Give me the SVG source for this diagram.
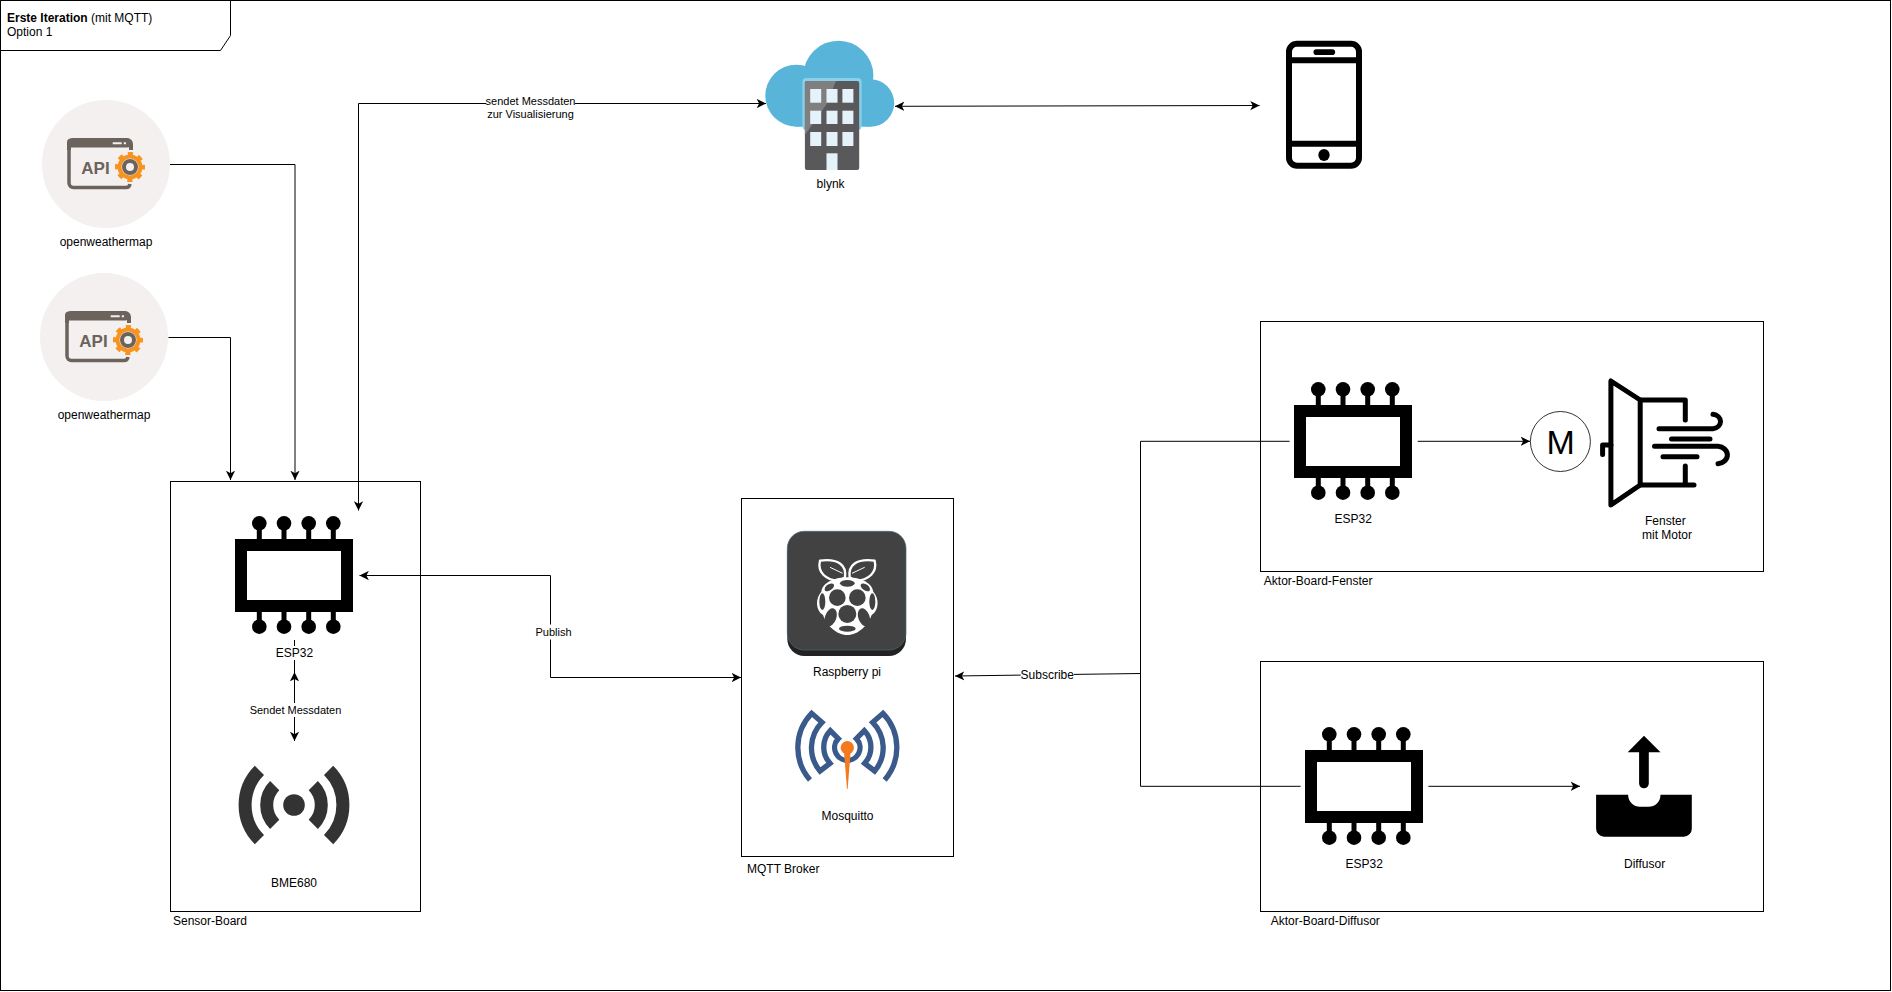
<svg xmlns="http://www.w3.org/2000/svg" width="1892" height="992" viewBox="0 0 1892 992">
<style>
text{font-family:"Liberation Sans",Arial,sans-serif;font-size:12px;fill:#000}
.c{text-anchor:middle}
.s{font-size:11px}
.box{fill:none;stroke:#000;stroke-width:1}
.ln{fill:none;stroke:#000;stroke-width:1}
.bg{fill:#fff}
</style>
<defs>
<marker id="ah" markerWidth="10" markerHeight="10" refX="7.5" refY="4" orient="auto-start-reverse" markerUnits="userSpaceOnUse" viewBox="0 0 8 8"><path d="M0,0.3L7.5,4L0,7.7L2,4Z" fill="#000"/></marker>
<g id="api">
<path d="M69,150V144a4,4 0 0 1 4,-4H127a4,4 0 0 1 4,4V150" fill="none" stroke="#6b635c" stroke-width="4"/>
<rect x="67" y="138.500" width="64" height="9" rx="4" fill="#6b635c"/>
<path d="M69,146V183a4.500,4.500 0 0 0 4.500,4.500H126a4,4 0 0 0 4,-3.500" fill="none" stroke="#6b635c" stroke-width="3.500"/>
<path d="M112.700,143.300H121.700M123.800,143.300H126" stroke="#f3f0ee" stroke-width="2"/>
<text x="95.500" y="173.500" class="c" style="font-size:17px;font-weight:bold;fill:#6b635c">API</text>
<circle cx="130" cy="167" r="10.500" fill="none" stroke="#f7931e" stroke-width="4"/>
<circle cx="130" cy="167" r="13" fill="none" stroke="#f7931e" stroke-width="4" stroke-dasharray="5.105 5.105" stroke-dashoffset="2.550"/>
<circle cx="130" cy="167" r="6" fill="#f3f0ee" stroke="#6b635c" stroke-width="4"/>
</g>
<g id="chip">
<rect x="6" y="6" width="106" height="61" fill="#fff" stroke="#000" stroke-width="12"/>
<path stroke="#000" stroke-width="5" d="M24.300,-16V1M49,-16V1M73.700,-16V1M98.300,-16V1M24.300,72V88M49,72V88M73.700,72V88M98.300,72V88"/>
<circle cx="24.300" cy="-15.700" r="7.300"/><circle cx="49" cy="-15.700" r="7.300"/><circle cx="73.700" cy="-15.700" r="7.300"/><circle cx="98.300" cy="-15.700" r="7.300"/>
<circle cx="24.300" cy="87.700" r="7.300"/><circle cx="49" cy="87.700" r="7.300"/><circle cx="73.700" cy="87.700" r="7.300"/><circle cx="98.300" cy="87.700" r="7.300"/>
</g>
</defs>
<rect x="0.500" y="0.500" width="1890" height="990" class="box"/>
<g id="title">
<path d="M0.500,0.500H230.500V35.500L220.500,50.500H0.500Z" fill="#fff" stroke="#000" stroke-width="1"/>
<text x="7" y="22"><tspan font-weight="bold">Erste Iteration</tspan> (mit MQTT)</text>
<text x="7" y="36">Option 1</text>
</g>
<g id="connectors">
<path class="ln" d="M170,164.500H295V480" marker-end="url(#ah)"/>
<path class="ln" d="M168.500,337.500H230.500V480" marker-end="url(#ah)"/>
<path class="ln" d="M358.500,510.500V103.500H766" marker-start="url(#ah)" marker-end="url(#ah)"/>
<path class="ln" d="M895,106.300L1259.600,105.500" marker-start="url(#ah)" marker-end="url(#ah)"/>
<path class="ln" d="M359.500,575.500H550.500V677.500H741" marker-start="url(#ah)" marker-end="url(#ah)"/>
<path class="ln" d="M294.500,640V672"/>
<path class="ln" d="M294.500,741V672" marker-start="url(#ah)" marker-end="url(#ah)"/>
<path class="ln" d="M1289.600,441.300H1140.500V786.300H1300.600"/>
<path class="ln" d="M1140.500,673.500L955,676" marker-end="url(#ah)"/>
<path class="ln" d="M1417.700,441.300H1530" marker-end="url(#ah)"/>
<path class="ln" d="M1428.400,786.300H1580" marker-end="url(#ah)"/>
<rect class="bg" x="486" y="95" width="89" height="26"/>
<text class="c s" x="530.500" y="105">sendet Messdaten</text>
<text class="c s" x="530.500" y="118">zur Visualisierung</text>
<rect class="bg" x="535" y="624.500" width="37" height="15"/>
<text class="c s" x="553.500" y="636">Publish</text>
<rect class="bg" x="249" y="703" width="92" height="14"/>
<text class="c s" x="295.500" y="714">Sendet Messdaten</text>
<rect class="bg" x="1020.700" y="667" width="53.300" height="15"/>
<text class="c" x="1047.300" y="679">Subscribe</text>
</g>
<g id="api1"><circle cx="106" cy="164" r="64" fill="#f3f0ef"/><use href="#api"/><text class="c" x="106" y="246">openweathermap</text></g>
<g id="api2"><circle cx="104" cy="337" r="64" fill="#f3f0ef"/><use href="#api" x="-2" y="173"/><text class="c" x="104" y="419">openweathermap</text></g>
<g id="blynk">
<g fill="#59b4d9"><circle cx="838.400" cy="75.700" r="35"/><circle cx="796.300" cy="95.700" r="31"/><circle cx="870.500" cy="103" r="23.700"/><rect x="796" y="85" width="74" height="41.700"/></g>
<rect x="802.400" y="78" width="59.200" height="52" rx="4" fill="#89d0ea"/>
<rect x="804.900" y="81" width="54.300" height="89" rx="2" fill="#59595b"/>
<path d="M807,81H836L826,105L804.900,135V83Z" fill="#7f7f7f"/>
<g fill="#e6f2f9"><rect x="810.200" y="89" width="11" height="13.700"/><rect x="826.500" y="89" width="11" height="13.700"/><rect x="842.400" y="89" width="11" height="13.700"/><rect x="810.200" y="110.700" width="11" height="13.300"/><rect x="826.500" y="110.700" width="11" height="13.300"/><rect x="842.400" y="110.700" width="11" height="13.300"/><rect x="810.200" y="132" width="11" height="14"/><rect x="826.500" y="132" width="11" height="14"/><rect x="842.400" y="132" width="11" height="14"/><rect x="826.500" y="153.300" width="11" height="16.700"/></g>
<text class="c" x="830.600" y="188">blynk</text>
</g>
<g id="phone">
<rect x="1289" y="43.700" width="70" height="122" rx="8" fill="#fff" stroke="#000" stroke-width="6"/>
<path d="M1288,60.300H1360M1288,143.700H1360" stroke="#000" stroke-width="6"/>
<rect x="1313.500" y="49.300" width="21.600" height="5.700" rx="2.800"/>
<ellipse cx="1324" cy="155" rx="5.700" ry="6"/>
</g>
<g id="sensor-board">
<rect x="170.500" y="481.500" width="250" height="430" class="box"/>
<text x="173" y="925">Sensor-Board</text>
</g>
<g id="esp1">
<use href="#chip" x="235" y="539"/>
<rect class="bg" x="275" y="646" width="40" height="14"/>
<text class="c" x="294.500" y="656.500">ESP32</text>
</g>
<g id="bme680">
<circle cx="294" cy="805" r="10.800" fill="#333"/>
<g fill="none" stroke="#333" stroke-width="13"><path d="M274.700,785.700A27.300,27.300 0 0 0 274.700,824.300M313.300,785.700A27.300,27.300 0 0 1 313.300,824.300M259.400,770.400A49,49 0 0 0 259.400,839.600M328.600,770.400A49,49 0 0 1 328.600,839.600"/></g>
<text class="c" x="294" y="887">BME680</text>
</g>
<g id="mqtt-broker">
<rect x="741.500" y="498.500" width="212" height="358" class="box"/>
<text x="747" y="873">MQTT Broker</text>
</g>
<g id="raspberry">
<rect x="787.300" y="537" width="118.700" height="119" rx="17" fill="#222"/>
<rect x="787.300" y="531.300" width="118.700" height="118.700" rx="17" fill="#424242" stroke="#4a6a7a" stroke-width="0.700"/>
<g transform="translate(730,490) scale(0.3333)">
<path d="M345,262C350,225 325,205 270,212C262,245 285,272 330,272Z" fill="#424242" stroke="#fff" stroke-width="7" stroke-linejoin="round"/>
<path d="M359,262C354,225 379,205 434,212C442,245 419,272 374,272Z" fill="#424242" stroke="#fff" stroke-width="7" stroke-linejoin="round"/>
<path d="M300,232L338,250M404,232L366,250" stroke="#fff" stroke-width="3"/>
<path d="M352,262C385,262 425,275 430,305C448,325 448,360 425,375C415,405 385,435 352,435C319,435 289,405 279,375C256,360 256,325 274,305C279,275 319,262 352,262Z" fill="#fff"/>
<g fill="#424242">
<ellipse cx="352" cy="280" rx="22" ry="10"/>
<circle cx="322" cy="323" r="25"/><circle cx="382" cy="323" r="25"/><circle cx="352" cy="372" r="27"/>
<ellipse cx="277" cy="335" rx="9" ry="25"/><ellipse cx="427" cy="335" rx="9" ry="25"/>
<ellipse cx="302" cy="382" rx="17" ry="28" transform="rotate(20 302 382)"/><ellipse cx="402" cy="382" rx="17" ry="28" transform="rotate(-20 402 382)"/>
<ellipse cx="352" cy="416" rx="25" ry="9"/>
<ellipse cx="298" cy="292" rx="16" ry="9" transform="rotate(-35 298 292)"/><ellipse cx="406" cy="292" rx="16" ry="9" transform="rotate(35 406 292)"/>
</g>
</g>
<text class="c" x="847" y="676">Raspberry pi</text>
</g>
<g id="mosquitto">
<g transform="translate(730,490) scale(0.3333)">
<g fill="none" stroke="#3b5a8c" stroke-width="16" stroke-linejoin="miter">
<path d="M240,870A148,148 0 0 1 245,670L276,697A108,108 0 0 0 270,843L300,820A72,72 0 0 1 301,722L325,746A38,38 0 0 0 360,810"/>
<path d="M464,870A148,148 0 0 0 459,670L428,697A108,108 0 0 1 434,843L404,820A72,72 0 0 0 403,722L379,746A38,38 0 0 1 344,810"/>
</g>
<circle cx="352" cy="773" r="20" fill="#f47a20"/>
<path d="M342,785H362L353,897H351Z" fill="#f47a20"/>
</g>
<text class="c" x="847.500" y="820">Mosquitto</text>
</g>
<g id="aktor-board-fenster">
<rect x="1260.500" y="321.500" width="503" height="250" class="box"/>
<text x="1263.800" y="585">Aktor-Board-Fenster</text>
</g>
<g id="esp2">
<use href="#chip" x="1294" y="405"/>
<text class="c" x="1353.300" y="523">ESP32</text>
</g>
<g id="motor">
<circle cx="1560.400" cy="441.500" r="30" fill="#fff" stroke="#000" stroke-width="0.800"/>
<text class="c" x="1560.600" y="453.500" style="font-size:34px">M</text>
</g>
<g id="fenster">
<g fill="none" stroke="#000" stroke-width="5" stroke-linejoin="round" stroke-linecap="round">
<path d="M1610.900,381V505L1640.200,485V400Z"/>
<path d="M1640.200,400H1685.300V420M1640.200,485H1694M1685.300,485V466"/>
<path d="M1610.900,445H1602.600V454.500"/>
<path d="M1659,428.700H1713A9,7.300 0 0 0 1713,414.300"/>
<path d="M1671.500,439H1710M1663,456.700H1697"/>
<path d="M1654.500,446.300H1718A10.500,8.800 0 0 1 1718,463.800"/>
</g>
<text class="c" x="1665.300" y="525">Fenster</text>
<text class="c" x="1667" y="539">mit Motor</text>
</g>
<g id="aktor-board-diffusor">
<rect x="1260.500" y="661.500" width="503" height="250" class="box"/>
<text x="1270.700" y="925">Aktor-Board-Diffusor</text>
</g>
<g id="esp3">
<use href="#chip" x="1305" y="750"/>
<text class="c" x="1364.300" y="868">ESP32</text>
</g>
<g id="diffusor">
<path d="M1596.100,794.700H1628.100C1628.100,802 1634,806.700 1640,806.700H1648.500C1655,806.700 1660.500,802 1660.500,794.700H1691.800V828.700A8,8 0 0 1 1683.800,836.700H1604.100A8,8 0 0 1 1596.100,828.700Z"/>
<path d="M1644,735.700L1660.500,752.300H1648.800V783.500A4.850,4.850 0 0 1 1639.100,783.500V752.300H1627.700Z"/>
<text class="c" x="1644.600" y="868">Diffusor</text>
</g>
</svg>
